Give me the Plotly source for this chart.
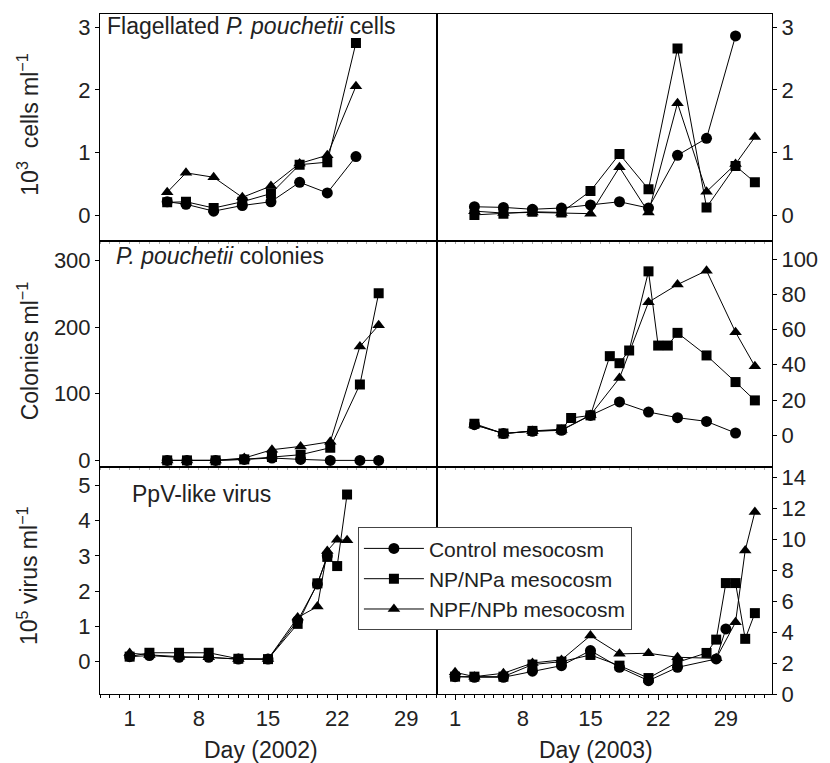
import plotly.graph_objects as go
from plotly.subplots import make_subplots

# ---------------- DATA ----------------
series_names = ["Control mesocosm", "NP/NPa mesocosm", "NPF/NPb mesocosm"]

# Flagellated P. pouchetii cells (10^3 cells/ml)
flag02_day = [4.8, 6.7, 9.5, 12.4, 15.3, 18.2, 21.0, 23.9]
flag02_ctrl = [0.22, 0.18, 0.07, 0.16, 0.22, 0.53, 0.36, 0.94]
flag02_np = [0.21, 0.22, 0.12, 0.22, 0.35, 0.81, 0.85, 2.75]
flag02_npf = [0.37, 0.68, 0.61, 0.29, 0.47, 0.83, 0.96, 2.06]

flag03_day = [3, 6, 9, 12, 15, 18, 21, 24, 27, 30, 32]
flag03_ctrl = [0.14, 0.13, 0.10, 0.12, 0.17, 0.22, 0.12, 0.96, 1.23, 2.86]
flag03_np = [0.01, 0.03, 0.06, 0.05, 0.39, 0.98, 0.42, 2.66, 0.13, 0.79, 0.53]
flag03_npf = [0.07, 0.04, 0.05, 0.04, 0.03, 0.77, 0.05, 1.79, 0.38, 0.82, 1.25]

# P. pouchetii colonies (colonies/ml)
col02_day = [4.8, 6.8, 9.7, 12.6, 15.4, 18.3, 21.3, 24.3, 26.2]
col02_ctrl = [0, 0, 0, 1.5, 3.5, 1.5, 0, 0, 0]
col02_np = [0, 0, 0, 1.5, 5, 8.5, 19, 114, 251]
col02_npf = [0, 0, 0, 3.5, 16, 21, 28, 171, 203]

col03_day_ctrl = [3, 6, 9, 12, 15, 18, 21, 24, 27, 30]
col03_ctrl = [6, 1, 2.3, 2.8, 11.3, 18.9, 13.2, 10, 7.9, 1.3]
col03_day_np = [3, 6, 9, 12, 13, 15, 17, 18, 19, 21, 22, 23, 24, 27, 30, 32]
col03_np = [6.6, 1, 2.5, 3.4, 9.8, 11.3, 44.9, 40.9, 48.1, 93, 50.9, 50.9, 58.1, 45.3, 30.2, 19.8]
col03_day_npf = [3, 6, 9, 12, 15, 18, 21, 24, 27, 30, 32]
col03_npf = [6, 1, 2.3, 3, 11.5, 32.5, 75.5, 85.5, 93.4, 58.5, 39.2]

# PpV-like virus (10^5 virus/ml)
vir02_day = [1, 3, 6, 9, 12, 15, 18, 20, 21, 22, 23]
vir02_ctrl = [0.14, 0.17, 0.12, 0.12, 0.07, 0.07, 1.16, 2.2, 3.0]
vir02_np = [0.14, 0.25, 0.25, 0.25, 0.08, 0.07, 1.07, 2.22, 2.97, 2.71, 4.74]
vir02_npf = [0.24, 0.19, 0.14, 0.12, 0.07, 0.07, 1.25, 1.56, 3.14, 3.46, 3.44]

vir03_day_ctrl = [1, 3, 6, 9, 12, 15, 18, 21, 24, 28, 29]
vir03_ctrl = [1.12, 1.08, 1.08, 1.47, 1.83, 2.8, 1.72, 0.86, 1.72, 2.26, 4.2]
vir03_day_np = [1, 3, 6, 9, 12, 15, 18, 21, 24, 27, 28, 29, 30, 31, 32]
vir03_np = [1.12, 1.12, 1.12, 1.9, 2.09, 2.52, 1.83, 1.03, 2.05, 2.65, 3.51, 7.16, 7.16, 3.56, 5.22]
vir03_day_npf = [1, 3, 6, 9, 12, 15, 18, 21, 24, 28, 30, 31, 32]
vir03_npf = [1.4, 1.12, 1.34, 2.0, 2.2, 3.77, 2.59, 2.63, 2.37, 2.3, 4.63, 9.27, 11.75]

day_ticks = [1, 8, 15, 22, 29]

# ---------------- FIGURE ----------------
FONT = "Liberation Sans, Arial, Helvetica, sans-serif"
TXT = "#222"
W, H = 830, 763
ML, MR, MT, MB = 100, 50, 13, 69
PW, PH = W - ML - MR, H - MT - MB

def px_x(px):
    return (px - ML) / PW

def px_y(py):
    return (H - MB - py) / PH

fig = make_subplots(rows=3, cols=2, horizontal_spacing=0, vertical_spacing=0)

symbols = ["circle", "square", "triangle-up"]
sizes = [11, 10, 11]

def add(row, col, xs_list, ys_list, legend=False):
    for i, (xs, ys) in enumerate(zip(xs_list, ys_list)):
        fig.add_trace(go.Scatter(
            x=xs[:len(ys)], y=ys, mode="lines+markers", name=series_names[i],
            line=dict(color="black", width=1),
            marker=dict(symbol=symbols[i], size=sizes[i], color="black",
                        line=dict(width=0)),
            showlegend=legend), row=row, col=col)

add(1, 1, [flag02_day] * 3, [flag02_ctrl, flag02_np, flag02_npf])
add(1, 2, [flag03_day] * 3, [flag03_ctrl, flag03_np, flag03_npf])
add(2, 1, [col02_day] * 3, [col02_ctrl, col02_np, col02_npf])
add(2, 2, [col03_day_ctrl, col03_day_np, col03_day_npf], [col03_ctrl, col03_np, col03_npf])
add(3, 1, [vir02_day] * 3, [vir02_ctrl, vir02_np, vir02_npf], legend=True)
add(3, 2, [vir03_day_ctrl, vir03_day_np, vir03_day_npf], [vir03_ctrl, vir03_np, vir03_npf])

xdom_l = [0, px_x(441)]
xdom_r = [px_x(441), 1]
ydoms = {1: [px_y(240), 1], 2: [px_y(466.7), px_y(240)], 3: [0, px_y(466.7)]}
yranges = {
    (1, 1): [-0.4, 3.21], (1, 2): [-0.4, 3.21],
    (2, 1): [-10, 330], (2, 2): [-18, 110.4],
    (3, 1): [-0.92, 5.52], (3, 2): [0, 14.65],
}
ytickvals = {
    (1, 1): [0, 1, 2, 3], (1, 2): [0, 1, 2, 3],
    (2, 1): [0, 100, 200, 300], (2, 2): [0, 20, 40, 60, 80, 100],
    (3, 1): [0, 1, 2, 3, 4, 5], (3, 2): [0, 2, 4, 6, 8, 10, 12, 14],
}
tickfont = dict(family=FONT, size=22, color=TXT)

for r in (1, 2, 3):
    for c in (1, 2):
        bottom = (r == 3)
        fig.update_xaxes(
            row=r, col=c,
            domain=xdom_l if c == 1 else xdom_r,
            range=[-2, 32.1] if c == 1 else [-0.87, 33.77],
            tickvals=day_ticks, showticklabels=bottom,
            ticks="outside", ticklen=5 if bottom else 2,
            tickcolor="black" if bottom else "#aaa",
            minor=dict(dtick=1, tick0=1, ticks="outside", ticklen=3 if bottom else 2,
                       tickcolor="black" if bottom else "#aaa"),
            showline=True, linecolor="black", linewidth=1, mirror=True,
            showgrid=False, zeroline=False, tickfont=tickfont,
        )
        fig.update_yaxes(
            row=r, col=c,
            domain=ydoms[r],
            range=yranges[(r, c)], tickvals=ytickvals[(r, c)],
            side="left" if c == 1 else "right",
            ticks="outside", ticklen=4, tickcolor="black",
            showline=True, linecolor="black", linewidth=1, mirror=True,
            showgrid=False, zeroline=False, tickfont=tickfont,
        )

ann_font = dict(family=FONT, size=23, color=TXT)
annotations = [
    # panel labels
    dict(text="Flagellated <i>P. pouchetii</i> cells", x=px_x(105), y=px_y(25),
         xanchor="left", yanchor="middle"),
    dict(text="<i>P. pouchetii</i> colonies", x=px_x(114), y=px_y(255),
         xanchor="left", yanchor="middle"),
    dict(text="PpV-like virus", x=px_x(130), y=px_y(494),
         xanchor="left", yanchor="middle"),
    # y titles
    dict(text="10<sup>3</sup>  cells ml<sup>−1</sup>", x=px_x(27), y=px_y(124),
         textangle=-90, xanchor="center", yanchor="middle"),
    dict(text="Colonies ml<sup>−1</sup>", x=px_x(27), y=px_y(350),
         textangle=-90, xanchor="center", yanchor="middle"),
    dict(text="10<sup>5</sup> virus ml<sup>−1</sup>", x=px_x(27), y=px_y(575),
         textangle=-90, xanchor="center", yanchor="middle"),
    # x titles
    dict(text="Day (2002)", x=px_x(263), y=px_y(750), xanchor="center", yanchor="middle"),
    dict(text="Day (2003)", x=px_x(602), y=px_y(750), xanchor="center", yanchor="middle"),
]
for a in annotations:
    a.update(xref="paper", yref="paper", showarrow=False, font=ann_font)

fig.update_layout(
    width=W, height=H,
    margin=dict(l=ML, r=MR, t=MT, b=MB, pad=0),
    paper_bgcolor="white", plot_bgcolor="white",
    font=dict(family=FONT, size=22, color=TXT),
    annotations=annotations,
    showlegend=True,
    legend=dict(x=px_x(361), y=px_y(527), xanchor="left", yanchor="top",
                bgcolor="white", bordercolor="#444", borderwidth=1,
                font=dict(family=FONT, size=21, color=TXT),
                tracegroupgap=0, itemwidth=60),
)

fig.write_html("out.html", config={"displayModeBar": False},
               post_script="document.body.style.margin='0';")
